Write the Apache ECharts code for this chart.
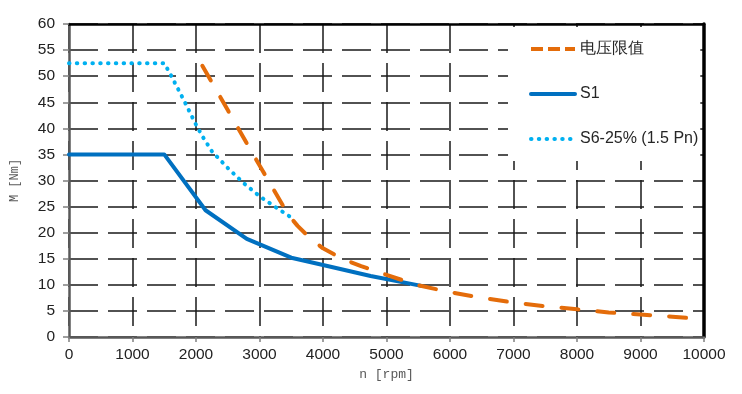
<!DOCTYPE html>
<html>
<head>
<meta charset="utf-8">
<script src="https://cdn.jsdelivr.net/npm/echarts@6/dist/echarts.min.js"></script>
<style>
html,body{margin:0;padding:0;background:#fff;}
#chart{width:742px;height:394px;}
</style>
</head>
<body>
<div id="chart"></div>
<script>
// ---- data ----
const seriesNames = ['电压限值', 'S1', 'S6-25% (1.5 Pn)'];

const voltSpeed = [2100, 2500, 3000, 3450, 3600, 3800, 4000, 4300, 4600, 5000, 5500, 6000, 6500, 7000, 7500, 8000, 8500, 9000, 9500, 10000];
const voltTorque = [52.0, 43.5, 32.9, 23.5, 21.3, 18.9, 17.0, 15.0, 13.6, 11.9, 9.9, 8.6, 7.5, 6.6, 5.9, 5.3, 4.7, 4.3, 3.9, 3.4];

const s1Speed = [0, 1500, 2150, 2800, 3500, 4000, 4750, 5550];
const s1Torque = [35, 35, 24.3, 18.8, 15.2, 13.8, 11.7, 9.8];

const s6Speed = [0, 1500, 1600, 1800, 2000, 2100, 2250, 2500, 2750, 3000, 3250, 3500];
const s6Torque = [52.5, 52.5, 50.3, 45.6, 40.7, 38.5, 35.6, 32.4, 29.5, 27.0, 24.9, 22.9];

const xTicks = {min: 0, max: 10000, interval: 1000};
const yTicks = {min: 0, max: 60, interval: 5};

const pairs = (xs, ys) => xs.map((x, i) => [x, ys[i]]);

const ORANGE = '#E46C0A', BLUE = '#0070C0', CYAN = '#00B0F0';
const gridLine = {show: true, lineStyle: {color: '#1a1a1a', width: 1.5, type: [29, 10]}};

const chart = echarts.init(document.getElementById('chart'), null, {renderer: 'canvas'});
chart.setOption({
  animation: false,
  backgroundColor: '#fff',
  grid: {left: 69, right: 38, top: 24, bottom: 57, containLabel: false},
  legend: {
    orient: 'vertical',
    left: 508, top: 27,
    padding: [14, 2, 14, 21],
    backgroundColor: '#fff',
    itemWidth: 44, itemHeight: 16, itemGap: 29,
    itemStyle: {opacity: 0},
    textStyle: {fontFamily: 'Liberation Sans, Arial', fontSize: 16, lineHeight: 16, color: '#262626'},
    data: [
      {name: seriesNames[0], lineStyle: {width: 4, type: [12, 5], color: ORANGE, cap: 'butt'}},
      {name: seriesNames[1], lineStyle: {width: 4, type: 'solid', color: BLUE, cap: 'round'}},
      {name: seriesNames[2], lineStyle: {width: 4, type: [0.5, 7.3], color: CYAN, cap: 'round'}}
    ]
  },
  xAxis: [{
    type: 'value', min: xTicks.min, max: xTicks.max, interval: xTicks.interval,
    name: 'n [rpm]', nameLocation: 'middle', nameGap: 29,
    nameTextStyle: {fontFamily: 'Liberation Mono', fontSize: 13, color: '#595959'},
    axisLine: {show: true, onZero: false, lineStyle: {color: '#595959', width: 2.5}},
    axisTick: {show: true, length: 5, lineStyle: {color: '#808080', width: 1.5}},
    axisLabel: {margin: 10, fontFamily: 'Liberation Sans, Arial', fontSize: 15.5, color: '#222',
      formatter: v => String(v)},
    splitLine: gridLine
  }, {
    type: 'value', position: 'top', min: xTicks.min, max: xTicks.max,
    axisLine: {show: true, onZero: false, lineStyle: {color: '#000', width: 2.5}},
    axisTick: {show: false}, axisLabel: {show: false}, splitLine: {show: false}
  }],
  yAxis: [{
    type: 'value', min: yTicks.min, max: yTicks.max, interval: yTicks.interval,
    name: 'M [Nm]', nameLocation: 'middle', nameGap: 48, nameRotate: 90,
    nameTextStyle: {fontFamily: 'Liberation Mono', fontSize: 12, color: '#595959'},
    axisLine: {show: true, onZero: false, lineStyle: {color: '#595959', width: 2.5}},
    axisTick: {show: true, length: 6, lineStyle: {color: '#808080', width: 1.5}},
    axisLabel: {margin: 14, fontFamily: 'Liberation Sans, Arial', fontSize: 15.5, color: '#222'},
    splitLine: gridLine
  }, {
    type: 'value', position: 'right', min: yTicks.min, max: yTicks.max,
    axisLine: {show: true, onZero: false, lineStyle: {color: '#000', width: 3.5}},
    axisTick: {show: false}, axisLabel: {show: false}, splitLine: {show: false}
  }],
  series: [
    {
      name: seriesNames[1], type: 'line', data: pairs(s1Speed, s1Torque),
      symbol: 'none', lineStyle: {color: BLUE, width: 4, cap: 'round', join: 'round'},
      itemStyle: {color: BLUE}, z: 2
    },
    {
      name: seriesNames[2], type: 'line', data: pairs(s6Speed, s6Torque),
      symbol: 'none', lineStyle: {color: CYAN, width: 4, type: [0.5, 7.3], cap: 'round', join: 'round'},
      itemStyle: {color: CYAN}, z: 3
    },
    {
      name: seriesNames[0], type: 'line', data: pairs(voltSpeed, voltTorque),
      symbol: 'none', lineStyle: {color: ORANGE, width: 4, type: [17, 19], cap: 'round', join: 'round'},
      itemStyle: {color: ORANGE}, z: 4
    }
  ]
});
</script>
</body>
</html>
